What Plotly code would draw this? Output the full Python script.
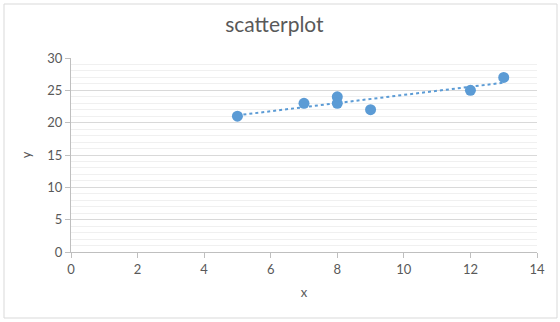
import numpy as np
import plotly.graph_objects as go

x_vals = [5, 7, 8, 8, 9, 12, 13]
y_vals = [21, 23, 24, 23, 22, 25, 27]
chart_title = "scatterplot"
x_title = "x"
y_title = "y"

slope, intercept = np.polyfit(x_vals, y_vals, 1)
tx = [min(x_vals), max(x_vals)]
ty = [slope * v + intercept for v in tx]

fig = go.Figure()
fig.add_trace(go.Scatter(x=tx, y=ty, mode="lines",
                         line=dict(color="#5b9bd5", width=2, dash="dot"),
                         showlegend=False, hoverinfo="skip"))
fig.add_trace(go.Scatter(x=x_vals, y=y_vals, mode="markers",
                         marker=dict(color="#5b9bd5", size=11),
                         showlegend=False))

font = "Lato, Carlito, Calibri, sans-serif"
L, R, T, B = 71, 23, 58, 70
W, H = 560, 322
pw, ph = W - L - R, H - T - B

def px(xp):
    return (xp - L) / pw

def py(yp):
    return (H - B - yp) / ph

fig.update_layout(
    width=W, height=H,
    margin=dict(l=L, r=R, t=T, b=B),
    paper_bgcolor="white", plot_bgcolor="white",
    title=dict(text=chart_title, x=0.49, xanchor="center", y=1 - 25 / H, yanchor="middle",
               font=dict(family=font, size=21, color="#595959")),
    font=dict(family=font, size=12, color="#595959"),
    xaxis=dict(range=[0, 14], dtick=2, showgrid=False, zeroline=False,
               showline=True, linecolor="#bfbfbf", linewidth=1,
               ticks="outside", ticklen=5, tickcolor="#bfbfbf",
               tickfont=dict(family=font, size=13, color="#595959"),
               title=dict(text=x_title, standoff=12,
                          font=dict(family=font, size=13, color="#595959"))),
    yaxis=dict(range=[0, 30], dtick=5, showgrid=True, gridcolor="#d9d9d9", zeroline=False,
               showline=True, linecolor="#bfbfbf", linewidth=1,
               ticks="outside", ticklen=5, tickcolor="#bfbfbf",
               tickfont=dict(family=font, size=13, color="#595959"),
               minor=dict(dtick=1, showgrid=True, gridcolor="#f0f0f0", ticks=""),
               title=dict(text=y_title, standoff=12,
                          font=dict(family=font, size=13, color="#595959"))),
    shapes=[dict(type="rect", xref="paper", yref="paper",
                 x0=px(4), x1=px(557), y0=py(318), y1=py(4),
                 line=dict(color="#d9d9d9", width=1), fillcolor="rgba(0,0,0,0)",
                 layer="below")],
)

fig.write_html("out.html")
